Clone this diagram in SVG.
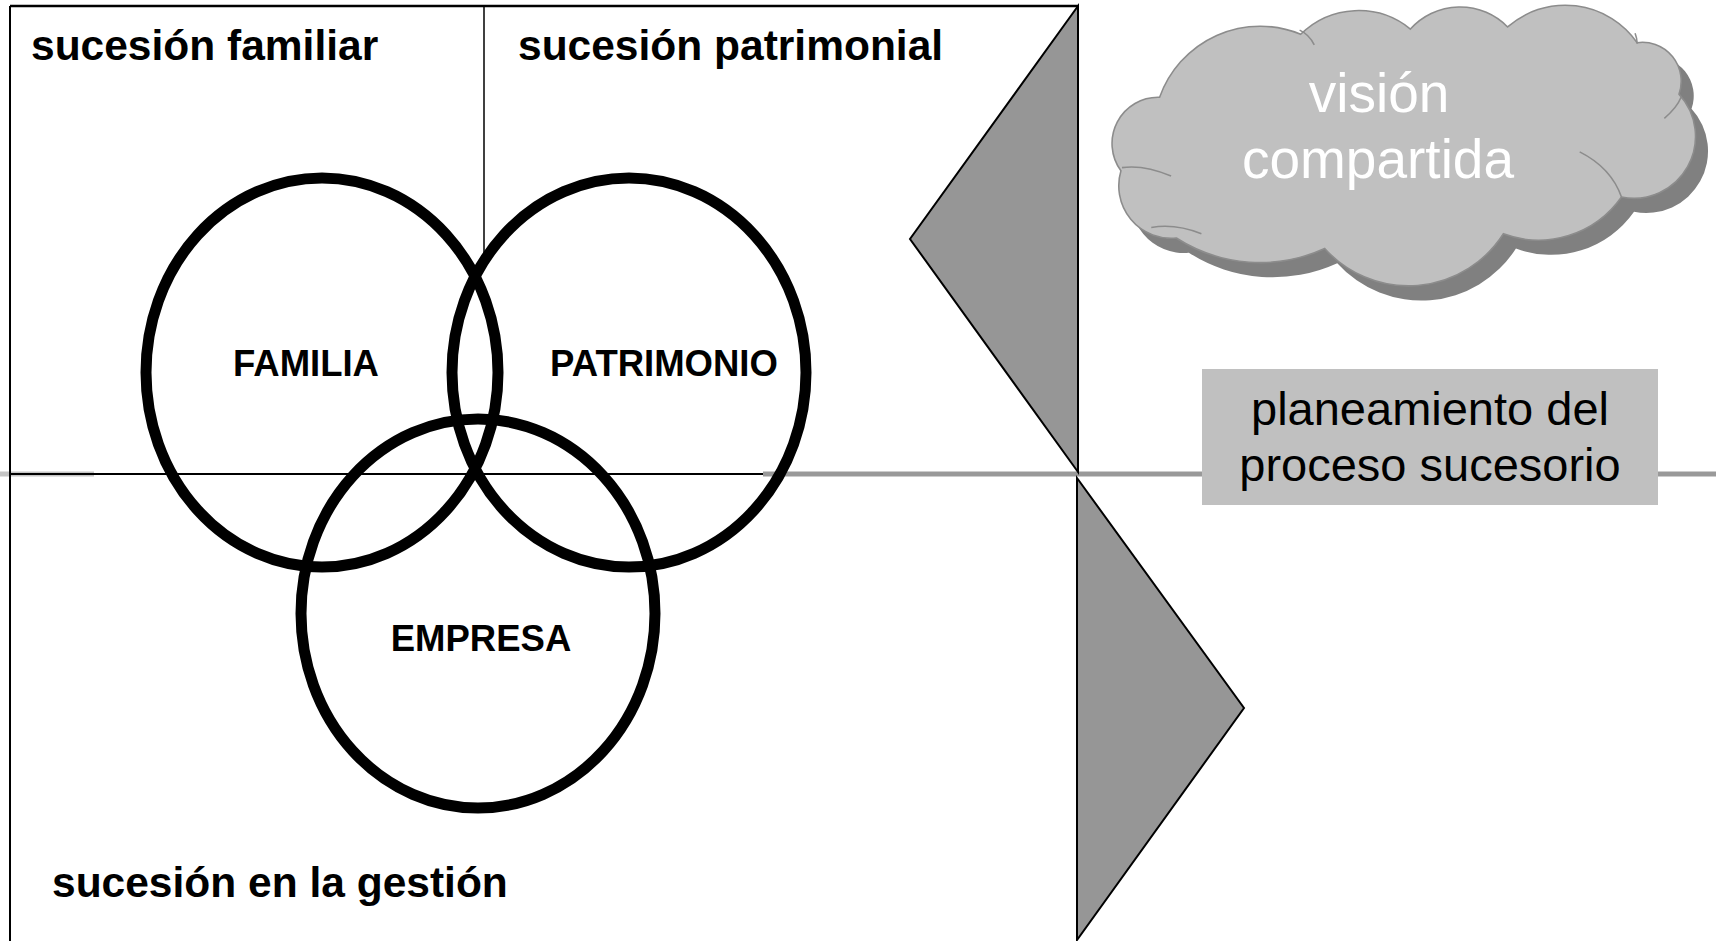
<svg xmlns="http://www.w3.org/2000/svg" xmlns:xlink="http://www.w3.org/1999/xlink" width="1716" height="941" viewBox="0 0 1716 941">
<defs>
<style>
.head{font-family:"Liberation Sans",Arial,sans-serif;font-weight:bold;font-size:42.5px;fill:#000}
.lbl{font-family:"Liberation Sans",Arial,sans-serif;font-weight:bold;font-size:36.5px;fill:#000;text-anchor:middle}
.ring{fill:none;stroke:#000;stroke-width:11}
.tri{fill:#969696;stroke:#000;stroke-width:2;stroke-linejoin:miter}
.box{font-family:"Liberation Sans",Arial,sans-serif;font-size:47px;fill:#000;text-anchor:middle}
.cloudtxt{font-family:"Liberation Sans",Arial,sans-serif;font-size:55px;fill:#fff;text-anchor:middle}
.tail{fill:none;stroke:#8c8c8c;stroke-width:1.5}
</style>
<path id="cloudShape" d="M1128,168 A44,44 0 0,1 1165,98 A102,102 0 0,1 1300,38 A79,79 0 0,1 1405,33 A64,64 0 0,1 1498,31 A84,84 0 0,1 1622,46 A37,37 0 0,1 1662,95 A59,59 0 0,1 1607,193 A97,97 0 0,1 1494,228 A108,108 0 0,1 1323,242 A149,149 0 0,1 1181,232 A50,50 0 0,1 1128,168 Z"/>
</defs>
<rect width="1716" height="941" fill="#fff"/>

<g id="frame">
<line x1="0" y1="474" x2="94" y2="474" stroke="#c4c4c4" stroke-width="5"/>
<line x1="10" y1="6" x2="10" y2="941" stroke="#000" stroke-width="2"/>
<line x1="10" y1="6" x2="1078" y2="6" stroke="#000" stroke-width="2.5"/>
<line x1="484" y1="6" x2="484" y2="254" stroke="#000" stroke-width="1.5"/>
<line x1="10" y1="474" x2="1078" y2="474" stroke="#000" stroke-width="2"/>
</g>

<g id="connectors">
<line x1="763" y1="474" x2="1716" y2="474" stroke="#999" stroke-width="5"/>
</g>

<g id="tri-top"><polygon class="tri" points="1078,6 910,239 1078,472"/></g>
<g id="tri-bottom"><polygon class="tri" points="1077,478 1244,708 1077,940"/></g>

<g id="head-familiar"><text class="head" x="31" y="60">sucesión familiar</text></g>
<g id="head-patrimonial"><text class="head" x="518" y="60">sucesión patrimonial</text></g>
<g id="head-gestion"><text class="head" x="52" y="897">sucesión en la gestión</text></g>

<g id="familia">
<ellipse class="ring" cx="322" cy="372.5" rx="176" ry="194.5"/>
<text class="lbl" x="306" y="376">FAMILIA</text>
</g>
<g id="patrimonio">
<ellipse class="ring" cx="629" cy="372.5" rx="177" ry="194.5"/>
<text class="lbl" x="664" y="376">PATRIMONIO</text>
</g>
<g id="empresa">
<ellipse class="ring" cx="478" cy="613.5" rx="177" ry="194.5"/>
<text class="lbl" x="481" y="651">EMPRESA</text>
</g>

<g id="cloud">
<g transform="translate(1401,143.5) scale(1.045,1.05) translate(-1396,-142)">
<use xlink:href="#cloudShape" href="#cloudShape" transform="translate(12,14)" fill="#808080" stroke="none"/>
<use xlink:href="#cloudShape" href="#cloudShape" fill="#c0c0c0" stroke="#8c8c8c" stroke-width="1.5"/>
<path class="tail" d="M1129,165 Q1150,162 1176,173"/>
<path class="tail" d="M1157,222 Q1180,218 1205,228"/>
<path class="tail" d="M1299,34 Q1308,38 1313,48"/>
<path class="tail" d="M1567,150 Q1597,165 1607,193"/>
<path class="tail" d="M1648,118 Q1660,108 1664,98"/>
<path class="tail" d="M1620,37 Q1622,42 1622,47"/>
</g>
<text class="cloudtxt" x="1379" y="112">visión</text>
<text class="cloudtxt" x="1378" y="178">compartida</text>
</g>

<g id="planeamiento">
<rect x="1202" y="369" width="456" height="136" fill="#c0c0c0"/>
<text class="box" x="1430" y="425">planeamiento del</text>
<text class="box" x="1430" y="481">proceso sucesorio</text>
</g>
</svg>
